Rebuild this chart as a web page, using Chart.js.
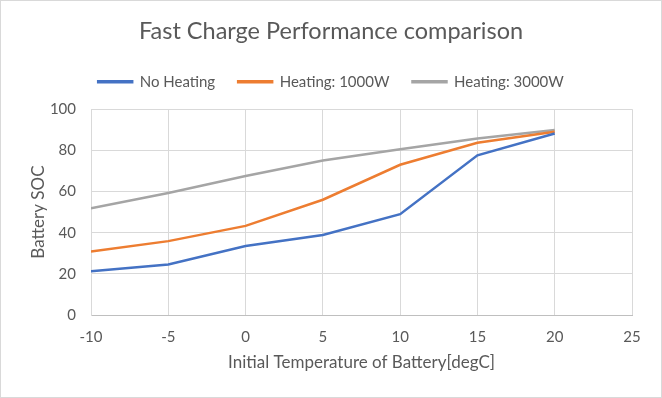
<!DOCTYPE html>
<html>
<head>
<meta charset="utf-8">
<script src="https://cdn.jsdelivr.net/npm/chart.js@4"></script>
<style>
  html, body { margin: 0; padding: 0; background: #fff; }
  #wrap { width: 662px; height: 398px; box-sizing: border-box; border: 1px solid #d9d9d9; position: relative; }
</style>
</head>
<body>
<div id="wrap"><canvas id="socChart"></canvas></div>
<script>
// Initial battery temperature [degC]
const temps = [-10, -5, 0, 5, 10, 15, 20];

// Battery SOC after fast charge, per heating mode
const noHeating = [21.2, 24.5, 33.5, 38.9, 49.0, 77.6, 88.2];
const heating1000 = [30.9, 35.9, 43.3, 56.0, 73.0, 83.7, 89.0];
const heating3000 = [51.8, 59.3, 67.5, 75.1, 80.5, 85.8, 89.9];

const seriesNames = ['No Heating', 'Heating: 1000W', 'Heating: 3000W'];
const seriesColors = ['#4472c4', '#ed7d31', '#a5a5a5'];

const FONT = 'Lato, "Liberation Sans", sans-serif';
const TEXT_GREY = '#595959';

function toPoints(values) {
    return temps.map((t, i) => ({ x: t, y: values[i] }));
}

const datasets = [noHeating, heating1000, heating3000].map((values, i) => ({
    label: seriesNames[i],
    data: toPoints(values),
    borderColor: seriesColors[i],
    backgroundColor: seriesColors[i],
    borderWidth: 2.5,
    pointRadius: 0,
    tension: 0
}));

const ctx = document.getElementById('socChart').getContext('2d');
new Chart(ctx, {
    type: 'line',
    data: { datasets: datasets },
    options: {
        responsive: true,
        maintainAspectRatio: false,
        animation: false,
        // same padding left and right so title / legend stay centred on the page
        layout: { padding: { left: 29, right: 29, top: 0, bottom: 0 } },
        plugins: {
            title: {
                display: true,
                text: 'Fast Charge Performance comparison',
                color: TEXT_GREY,
                font: { family: FONT, size: 23.5, weight: 'normal' },
                padding: { top: 16, bottom: 6 }
            },
            legend: {
                position: 'top',
                labels: {
                    boxWidth: 34,
                    boxHeight: 1,
                    color: TEXT_GREY,
                    font: { family: FONT, size: 15 },
                    padding: 23
                }
            },
            // empty subtitle used as a spacer between legend and plot area
            subtitle: {
                display: true,
                text: '',
                weight: 500,
                font: { size: 10, lineHeight: 1 },
                padding: { top: 0, bottom: 0 }
            },
            tooltip: { enabled: false }
        },
        scales: {
            x: {
                type: 'linear',
                min: -10,
                max: 25,
                afterFit: (scale) => { scale.height = 82; },
                ticks: {
                    stepSize: 5,
                    color: TEXT_GREY,
                    font: { family: FONT, size: 15 },
                    padding: 13
                },
                grid: { color: '#d9d9d9', lineWidth: 1, drawTicks: false },
                border: { color: '#bfbfbf' },
                title: {
                    display: true,
                    text: 'Initial Temperature of Battery[degC]',
                    color: TEXT_GREY,
                    font: { family: FONT, size: 17 },
                    padding: { top: 24, bottom: 24 }
                }
            },
            y: {
                min: 0,
                max: 100,
                afterFit: (scale) => { scale.width = 61; },
                ticks: {
                    stepSize: 20,
                    color: TEXT_GREY,
                    font: { family: FONT, size: 15 },
                    padding: 15
                },
                grid: { color: '#d9d9d9', lineWidth: 1, drawTicks: false },
                border: { color: '#d9d9d9' },
                title: {
                    display: true,
                    text: 'Battery SOC',
                    color: TEXT_GREY,
                    font: { family: FONT, size: 17, lineHeight: 1 },
                    padding: { top: 0, bottom: 0 }
                }
            }
        }
    }
});
</script>
</body>
</html>
